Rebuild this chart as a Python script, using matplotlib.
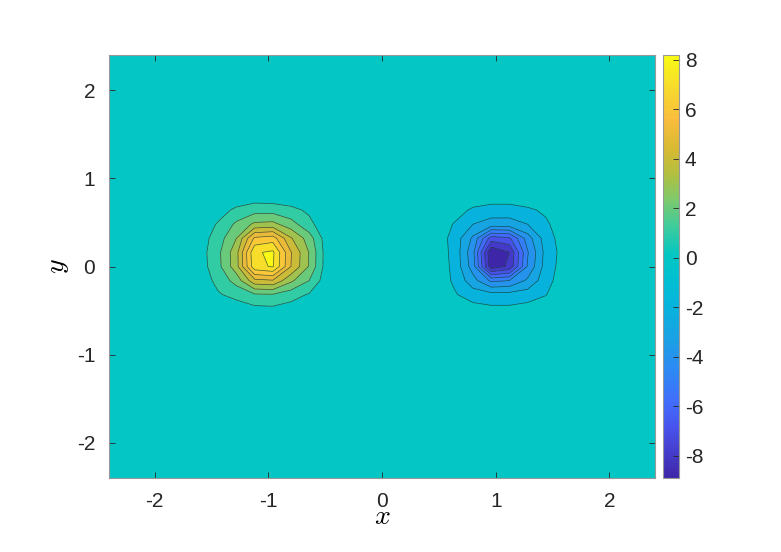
import numpy as np
import matplotlib
matplotlib.use('Agg')
import matplotlib.pyplot as plt
from matplotlib.colors import LinearSegmentedColormap, Normalize
import matplotlib.cm as cm

plt.rcParams['font.family'] = ['Liberation Sans', 'DejaVu Sans']
plt.rcParams['mathtext.fontset'] = 'cm'
plt.rcParams['axes.unicode_minus'] = False

# grid, spacing 0.16 over [-2.4, 2.4]
x = np.linspace(-2.4, 2.4, 31)
y = np.linspace(-2.4, 2.4, 31)

# blob rows, listed top (y=0.8) to bottom (y=-0.48)
blob_y = [0.8, 0.64, 0.48, 0.32, 0.16, 0.0, -0.16, -0.32, -0.48]

pos_x = [-1.6, -1.44, -1.28, -1.12, -0.96, -0.8, -0.64, -0.48]
pos_vals = [
    [0.0, 0.1, 0.3, 0.4, 0.3, 0.2, 0.1, 0.0],
    [0.2, 0.6, 1.2, 1.6, 1.6, 1.3, 0.8, 0.1],
    [0.4, 1.1, 2.2, 3.2, 3.3, 2.4, 1.3, 0.2],
    [0.5, 1.5, 3.0, 6.2, 6.5, 4.1, 2.5, 0.35],
    [0.55, 1.75, 3.65, 7.85, 8.2, 5.05, 2.95, 0.4],
    [0.5, 1.7, 3.6, 7.7, 8.1, 5.0, 2.9, 0.38],
    [0.4, 1.3, 2.4, 4.7, 4.9, 3.2, 2.0, 0.3],
    [0.15, 0.9, 1.3, 1.85, 1.9, 1.4, 0.9, 0.1],
    [0.0, 0.2, 0.5, 0.75, 0.8, 0.6, 0.3, 0.0],
]

neg_x = [0.48, 0.64, 0.8, 0.96, 1.12, 1.28, 1.44, 1.6]
neg_vals = [
    [0.0, -0.1, -0.2, -0.3, -0.3, -0.2, -0.1, 0.0],
    [-0.1, -0.5, -1.2, -1.5, -1.5, -1.2, -0.8, -0.1],
    [-0.3, -1.1, -2.0, -2.4, -2.4, -2.0, -1.2, -0.3],
    [-0.4, -1.4, -3.2, -6.5, -6.2, -3.5, -1.5, -0.5],
    [-0.35, -1.35, -3.7, -8.9, -8.0, -4.1, -1.65, -0.6],
    [-0.3, -1.3, -3.5, -8.6, -7.8, -3.9, -1.55, -0.55],
    [-0.3, -1.2, -2.6, -4.2, -4.0, -2.8, -1.4, -0.4],
    [-0.2, -0.9, -1.5, -1.6, -1.6, -1.5, -1.05, -0.2],
    [0.0, -0.3, -0.6, -0.8, -0.8, -0.6, -0.3, 0.0],
]

# contour levels (zero band is the background)
levels = [-9, -8, -7, -6, -5, -4, -3, -2, -1, 1, 2, 3, 4, 5, 6, 7, 8]
cbar_ticks = np.arange(-8, 9, 2)
xy_ticks = [-2, -1, 0, 1, 2]

Z = np.zeros((len(y), len(x)))
iy = [np.argmin(np.abs(y - v)) for v in blob_y]
for xs, vals in ((pos_x, pos_vals), (neg_x, neg_vals)):
    ix = [np.argmin(np.abs(x - v)) for v in xs]
    Z[np.ix_(iy, ix)] = vals

# parula-like colormap
parula = LinearSegmentedColormap.from_list('parula', [
    (0.00, (0.243, 0.150, 0.660)),
    (0.06, (0.275, 0.240, 0.800)),
    (0.12, (0.282, 0.330, 0.930)),
    (0.18, (0.255, 0.430, 0.985)),
    (0.25, (0.180, 0.530, 0.960)),
    (0.32, (0.110, 0.620, 0.900)),
    (0.40, (0.030, 0.700, 0.870)),
    (0.47, (0.000, 0.750, 0.820)),
    (0.53, (0.020, 0.780, 0.760)),
    (0.60, (0.260, 0.800, 0.600)),
    (0.66, (0.500, 0.790, 0.420)),
    (0.72, (0.700, 0.750, 0.250)),
    (0.78, (0.850, 0.730, 0.200)),
    (0.85, (0.980, 0.740, 0.240)),
    (0.92, (0.970, 0.850, 0.180)),
    (1.00, (0.977, 0.984, 0.080)),
])

zmin, zmax = Z.min(), Z.max()
norm = Normalize(zmin, zmax)

# matlab style: each band takes the colour of its lower level,
# the band around zero takes the colour of 0
fill_levels = [l - 1e-6 for l in levels] + [zmax + 0.1]
fill_colors = [parula(norm(0 if l == -1 else l)) for l in levels]

fig = plt.figure(figsize=(7.81, 5.52), dpi=100)
ax = fig.add_axes([0.1396, 0.134, 0.699, 0.7664])
cax = fig.add_axes([0.849, 0.134, 0.0205, 0.7664])

ax.contourf(x, y, Z, levels=fill_levels, colors=fill_colors)
ax.contour(x, y, Z, levels=levels[1:], colors=[(0.1, 0.2, 0.2)],
           linewidths=0.5, alpha=0.8, linestyles='solid')

ax.set_xlim(-2.4, 2.4)
ax.set_ylim(-2.4, 2.4)
ax.set_xticks(xy_ticks)
ax.set_yticks(xy_ticks)
ax.tick_params(direction='in', length=4, width=0.6, top=True, right=True,
               labelsize=15, colors=(0.15, 0.15, 0.15), pad=10)
for s in ax.spines.values():
    s.set_color((0.6, 0.6, 0.6))
    s.set_linewidth(0.8)
ax.set_xlabel('$x$', fontsize=20, labelpad=-5)
ax.set_ylabel('$y$', fontsize=20, labelpad=4)

cb = fig.colorbar(cm.ScalarMappable(norm=norm, cmap=parula), cax=cax)
cb.set_ticks(cbar_ticks)
cax.tick_params(direction='in', length=4, width=0.6, labelsize=15,
                colors=(0.15, 0.15, 0.15), pad=4)
cb.outline.set_edgecolor((0.6, 0.6, 0.6))
cb.outline.set_linewidth(0.8)

fig.savefig('out.png', dpi=100)
